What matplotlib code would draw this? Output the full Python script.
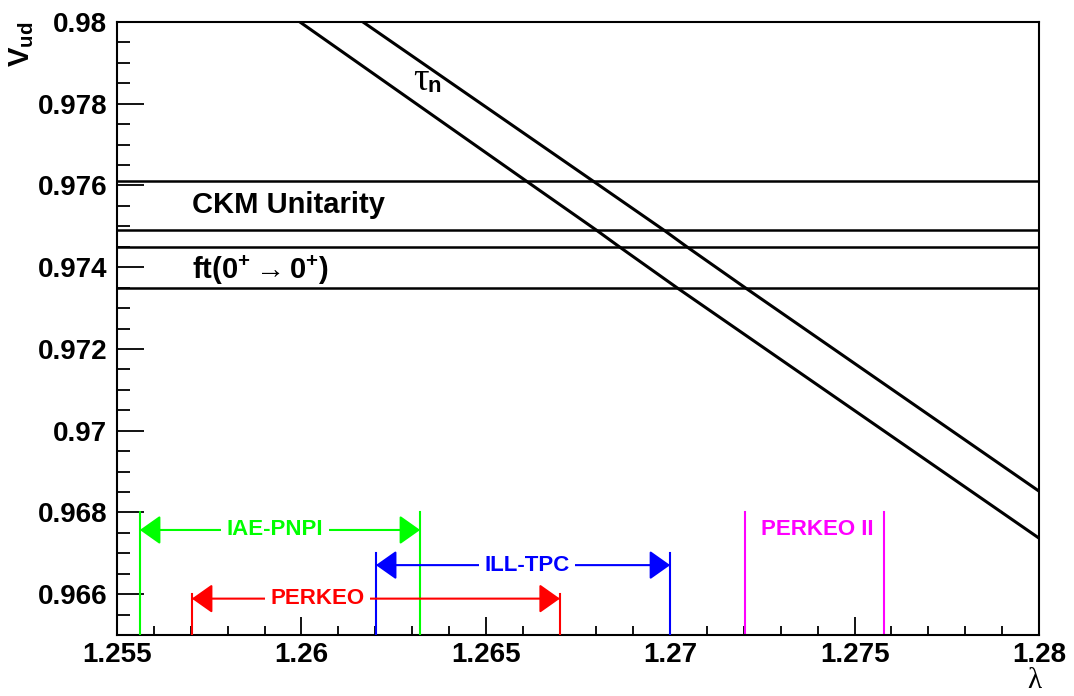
import matplotlib
matplotlib.use("Agg")
import matplotlib.pyplot as plt
from matplotlib.patches import FancyArrowPatch
from matplotlib.ticker import FixedLocator, MultipleLocator

plt.rcParams['font.family'] = ['Liberation Sans', 'DejaVu Sans']
plt.rcParams['mathtext.fontset'] = 'custom'
plt.rcParams['mathtext.rm'] = 'Liberation Sans'
plt.rcParams['mathtext.bf'] = 'Liberation Sans:bold'
plt.rcParams['mathtext.it'] = 'Liberation Sans:italic'
plt.rcParams['mathtext.sf'] = 'Liberation Sans'

# ---- data ----
x_ticks = [1.255, 1.26, 1.265, 1.27, 1.275, 1.28]
x_tick_labels = ["1.255", "1.26", "1.265", "1.27", "1.275", "1.28"]
y_ticks = [0.966, 0.968, 0.97, 0.972, 0.974, 0.976, 0.978, 0.98]
y_tick_labels = ["0.966", "0.968", "0.97", "0.972", "0.974", "0.976", "0.978", "0.98"]

# neutron lifetime band (lambda, Vud)
tau_lo_lam = [1.25996, 1.26611, 1.26801, 1.26862, 1.27018, 1.28]
tau_lo_vud = [0.98, 0.9761, 0.9749, 0.9745, 0.9735, 0.96737]
tau_hi_lam = [1.26167, 1.26792, 1.26984, 1.27045, 1.27203, 1.28]
tau_hi_vud = [0.98, 0.9761, 0.9749, 0.9745, 0.9735, 0.96852]

# horizontal bands
ckm_band = [0.9749, 0.9761]
ft_band = [0.9735, 0.9745]

# lambda measurements: name, low, high, vertical-line top, arrow level, colour, label x
exp_names = ["IAE-PNPI", "ILL-TPC", "PERKEO"]
exp_lo = [1.25562, 1.26202, 1.25703]
exp_hi = [1.26322, 1.27, 1.26701]
exp_top = [0.968, 0.967, 0.966]
exp_arrow = [0.96757, 0.96671, 0.96589]
exp_colors = ["#00ff00", "#0000ff", "#ff0000"]
exp_label_x = [1.25928, 1.26611, 1.26044]

perkeo2_lo, perkeo2_hi = 1.27202, 1.27581
perkeo2_top = 0.968
perkeo2_label = (1.27398, 0.96757)

fig = plt.figure(figsize=(10.74, 6.96), dpi=100)
ax = fig.add_axes([117/1074, 1-635/696, (1039-117)/1074, (635-22)/696])
ax.set_xlim(1.255, 1.28)
ax.set_ylim(0.965, 0.98)

# bands
for yv in ckm_band + ft_band:
    ax.axhline(yv, color='black', lw=1.8, zorder=2)
ax.plot(tau_lo_lam, tau_lo_vud, color='black', lw=2.2, zorder=2)
ax.plot(tau_hi_lam, tau_hi_vud, color='black', lw=2.2, zorder=2)

ax.text(1.25703, 0.97552, "CKM Unitarity", fontsize=21, fontweight='bold',
        ha='left', va='center')
ax.text(1.25703, 0.97393, r"$\mathbf{ft(0^{+}}\rightarrow\mathbf{0^{+})}$", fontsize=21,
        ha='left', va='center')
ax.text(1.26346, 0.97858, "τ", fontsize=28, family=['Liberation Serif', 'DejaVu Serif'],
        ha='right', va='center')
ax.annotate("n", xy=(1.26346, 0.97858), xytext=(-1, -5), textcoords='offset points',
            fontsize=16, fontweight='bold', ha='left', va='center')

# experiments
for name, lo, hi, top, ya, c, lx in zip(exp_names, exp_lo, exp_hi, exp_top,
                                         exp_arrow, exp_colors, exp_label_x):
    ax.plot([lo, lo], [0.965, top], color=c, lw=1.5, zorder=3)
    ax.plot([hi, hi], [0.965, top], color=c, lw=1.5, zorder=3)
    arr = FancyArrowPatch((lo, ya), (hi, ya), arrowstyle='<|-|>,head_length=0.85,head_width=0.6',
                          mutation_scale=15, color=c, lw=1.5, shrinkA=0, shrinkB=0, zorder=3)
    ax.add_patch(arr)
    ax.text(lx, ya, name, color=c, fontsize=16, fontweight='bold', ha='center', va='center',
            zorder=4, bbox=dict(facecolor='white', edgecolor='none', pad=4))

ax.plot([perkeo2_lo, perkeo2_lo], [0.965, perkeo2_top], color='#ff00ff', lw=1.5)
ax.plot([perkeo2_hi, perkeo2_hi], [0.965, perkeo2_top], color='#ff00ff', lw=1.5)
ax.text(perkeo2_label[0], perkeo2_label[1], "PERKEO II", color='#ff00ff', fontsize=16,
        fontweight='bold', ha='center', va='center')

# axes styling
for s in ax.spines.values():
    s.set_linewidth(1.5)
ax.xaxis.set_major_locator(FixedLocator(x_ticks))
ax.set_xticklabels(x_tick_labels)
ax.xaxis.set_minor_locator(MultipleLocator(0.001))
ax.yaxis.set_major_locator(FixedLocator(y_ticks))
ax.set_yticklabels(y_tick_labels)
ax.yaxis.set_minor_locator(MultipleLocator(0.0005))
ax.tick_params(axis='x', which='major', direction='in', length=13, width=1.3, pad=5)
ax.tick_params(axis='x', which='minor', direction='in', length=6.5, width=1.3)
ax.tick_params(axis='y', which='major', direction='in', length=19.5, width=1.3, pad=7)
ax.tick_params(axis='y', which='minor', direction='in', length=9.5, width=1.3)
for lab in ax.get_xticklabels() + ax.get_yticklabels():
    lab.set_fontsize(20)
    lab.set_fontweight('bold')

fig.text(22/1074, 1-22/696, r"$\mathbf{V_{ud}}$", fontsize=21, rotation=90,
         ha='center', va='top')
fig.text(1041/1074, 2/696, "λ", fontsize=21, family=['Liberation Serif', 'DejaVu Serif'],
         ha='right', va='bottom')

fig.savefig("out.png", dpi=100, facecolor='white')
